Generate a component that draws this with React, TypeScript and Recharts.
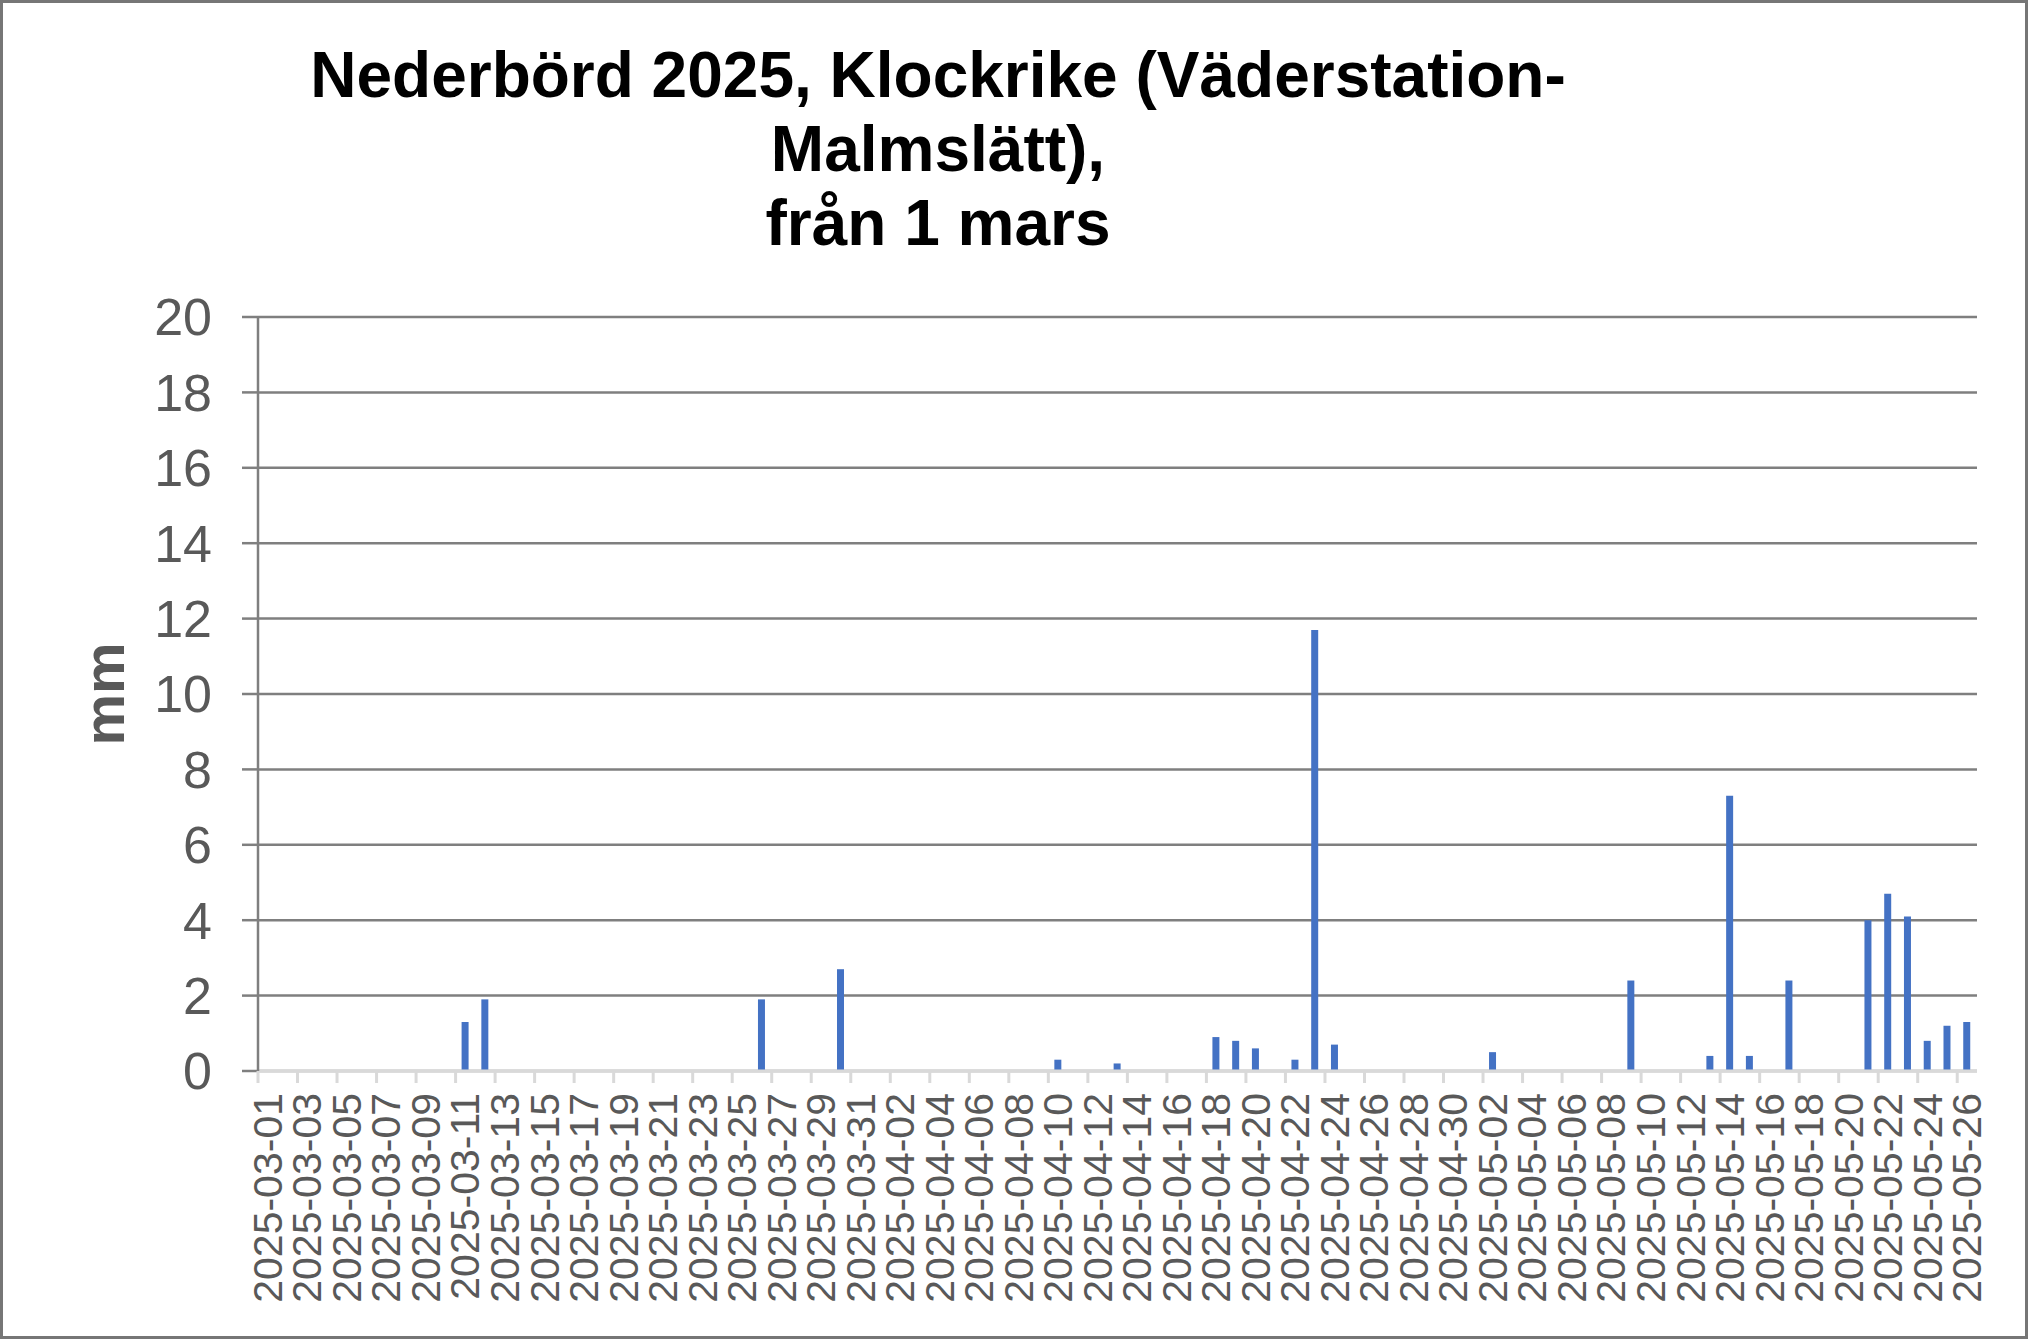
import { Bar, BarChart, CartesianGrid, XAxis, YAxis } from 'recharts'

// daily precipitation (mm), one value per day
const marchMm = [
	0, 0, 0, 0, 0, 0, 0, 0, 0, 0,
	1.3, 1.9, 0, 0, 0, 0, 0, 0, 0, 0,
	0, 0, 0, 0, 0, 1.9, 0, 0, 0, 2.7,
	0,
]
const aprilMm = [
	0, 0, 0, 0, 0, 0, 0, 0, 0, 0.3,
	0, 0, 0.2, 0, 0, 0, 0, 0.9, 0.8, 0.6,
	0, 0.3, 11.7, 0.7, 0, 0, 0, 0, 0, 0,
]
const mayMm = [
	0, 0.5, 0, 0, 0, 0, 0, 0, 2.4, 0,
	0, 0, 0.4, 7.3, 0.4, 0, 2.4, 0, 0, 0,
	4.0, 4.7, 4.1, 0.8, 1.2, 1.3,
]
const months = ['03', '04', '05']
const monthValues = [marchMm, aprilMm, mayMm]
const yTicks = [0, 2, 4, 6, 8, 10, 12, 14, 16, 18, 20]
const titleLines = ['Nederbörd 2025, Klockrike (Väderstation-', 'Malmslätt),', 'från 1 mars']

const data = months.flatMap((m, mi) =>
	monthValues[mi].map((mm, d) => ({
		date: `2025-${m}-${String(d + 1).padStart(2, '0')}`,
		mm,
	})),
)

const FONT = 'Arial, "Liberation Sans", sans-serif'
const TEXT = '#595959'
const GRID = '#7f7f7f'

function DateTick({ x, y, payload }: any) {
	const half = payload?.offset ?? 0
	return (
		<g>
			<line x1={x - half} x2={x - half} y1={y} y2={y + 12} stroke="#d9d9d9" strokeWidth={3} />
			<text
				x={x}
				y={y + 22}
				transform={`rotate(-90, ${x}, ${y + 22})`}
				textAnchor="end"
				dominantBaseline="central"
				fill={TEXT}
				fontSize={41}
				fontFamily={FONT}
			>
				{payload.value}
			</text>
		</g>
	)
}

function MmLabel({ viewBox }: any) {
	const cx = (viewBox?.x ?? 0) + 103
	const cy = (viewBox?.y ?? 0) + (viewBox?.height ?? 0) / 2
	return (
		<text
			x={cx}
			y={cy}
			transform={`rotate(-90, ${cx}, ${cy})`}
			textAnchor="middle"
			dominantBaseline="central"
			fill={TEXT}
			fontSize={58}
			fontWeight="bold"
			fontFamily={FONT}
		>
			mm
		</text>
	)
}

export default function App() {
	return (
		<div
			style={{
				position: 'absolute',
				left: 0,
				top: 0,
				width: 2028,
				height: 1339,
				boxSizing: 'border-box',
				border: '3px solid #767676',
				background: '#fff',
				overflow: 'hidden',
			}}
		>
			<div
				style={{
					position: 'absolute',
					left: -3,
					top: 35,
					width: 1876,
					textAlign: 'center',
					fontFamily: FONT,
					fontWeight: 'bold',
					fontSize: 64,
					lineHeight: '74px',
					color: '#000',
				}}
			>
				{titleLines.map((t) => (
					<div key={t}>{t}</div>
				))}
			</div>
			<div style={{ position: 'absolute', left: -3, top: -3 }}>
				<BarChart
					width={2028}
					height={1339}
					data={data}
					margin={{ top: 317, right: 51, bottom: 48, left: 0 }}
					barCategoryGap={0}
				>
					<CartesianGrid vertical={false} stroke={GRID} strokeWidth={2.5} />
					<Bar dataKey="mm" fill="#4472C4" barSize={7} isAnimationActive={false} />
					<XAxis
						dataKey="date"
						height={220}
						interval={1}
						tickSize={0}
						tickMargin={0}
						tickLine={false}
						axisLine={{ stroke: '#d9d9d9', strokeWidth: 3 }}
						tick={<DateTick />}
					/>
					<YAxis
						width={258}
						domain={[0, 20]}
						ticks={yTicks}
						interval={0}
						tickSize={16}
						tickMargin={30}
						axisLine={{ stroke: GRID, strokeWidth: 2.5 }}
						tickLine={{ stroke: GRID, strokeWidth: 2.5 }}
						tick={{ fill: TEXT, fontSize: 52, fontFamily: FONT }}
						label={<MmLabel />}
					/>
				</BarChart>
			</div>
		</div>
	)
}
